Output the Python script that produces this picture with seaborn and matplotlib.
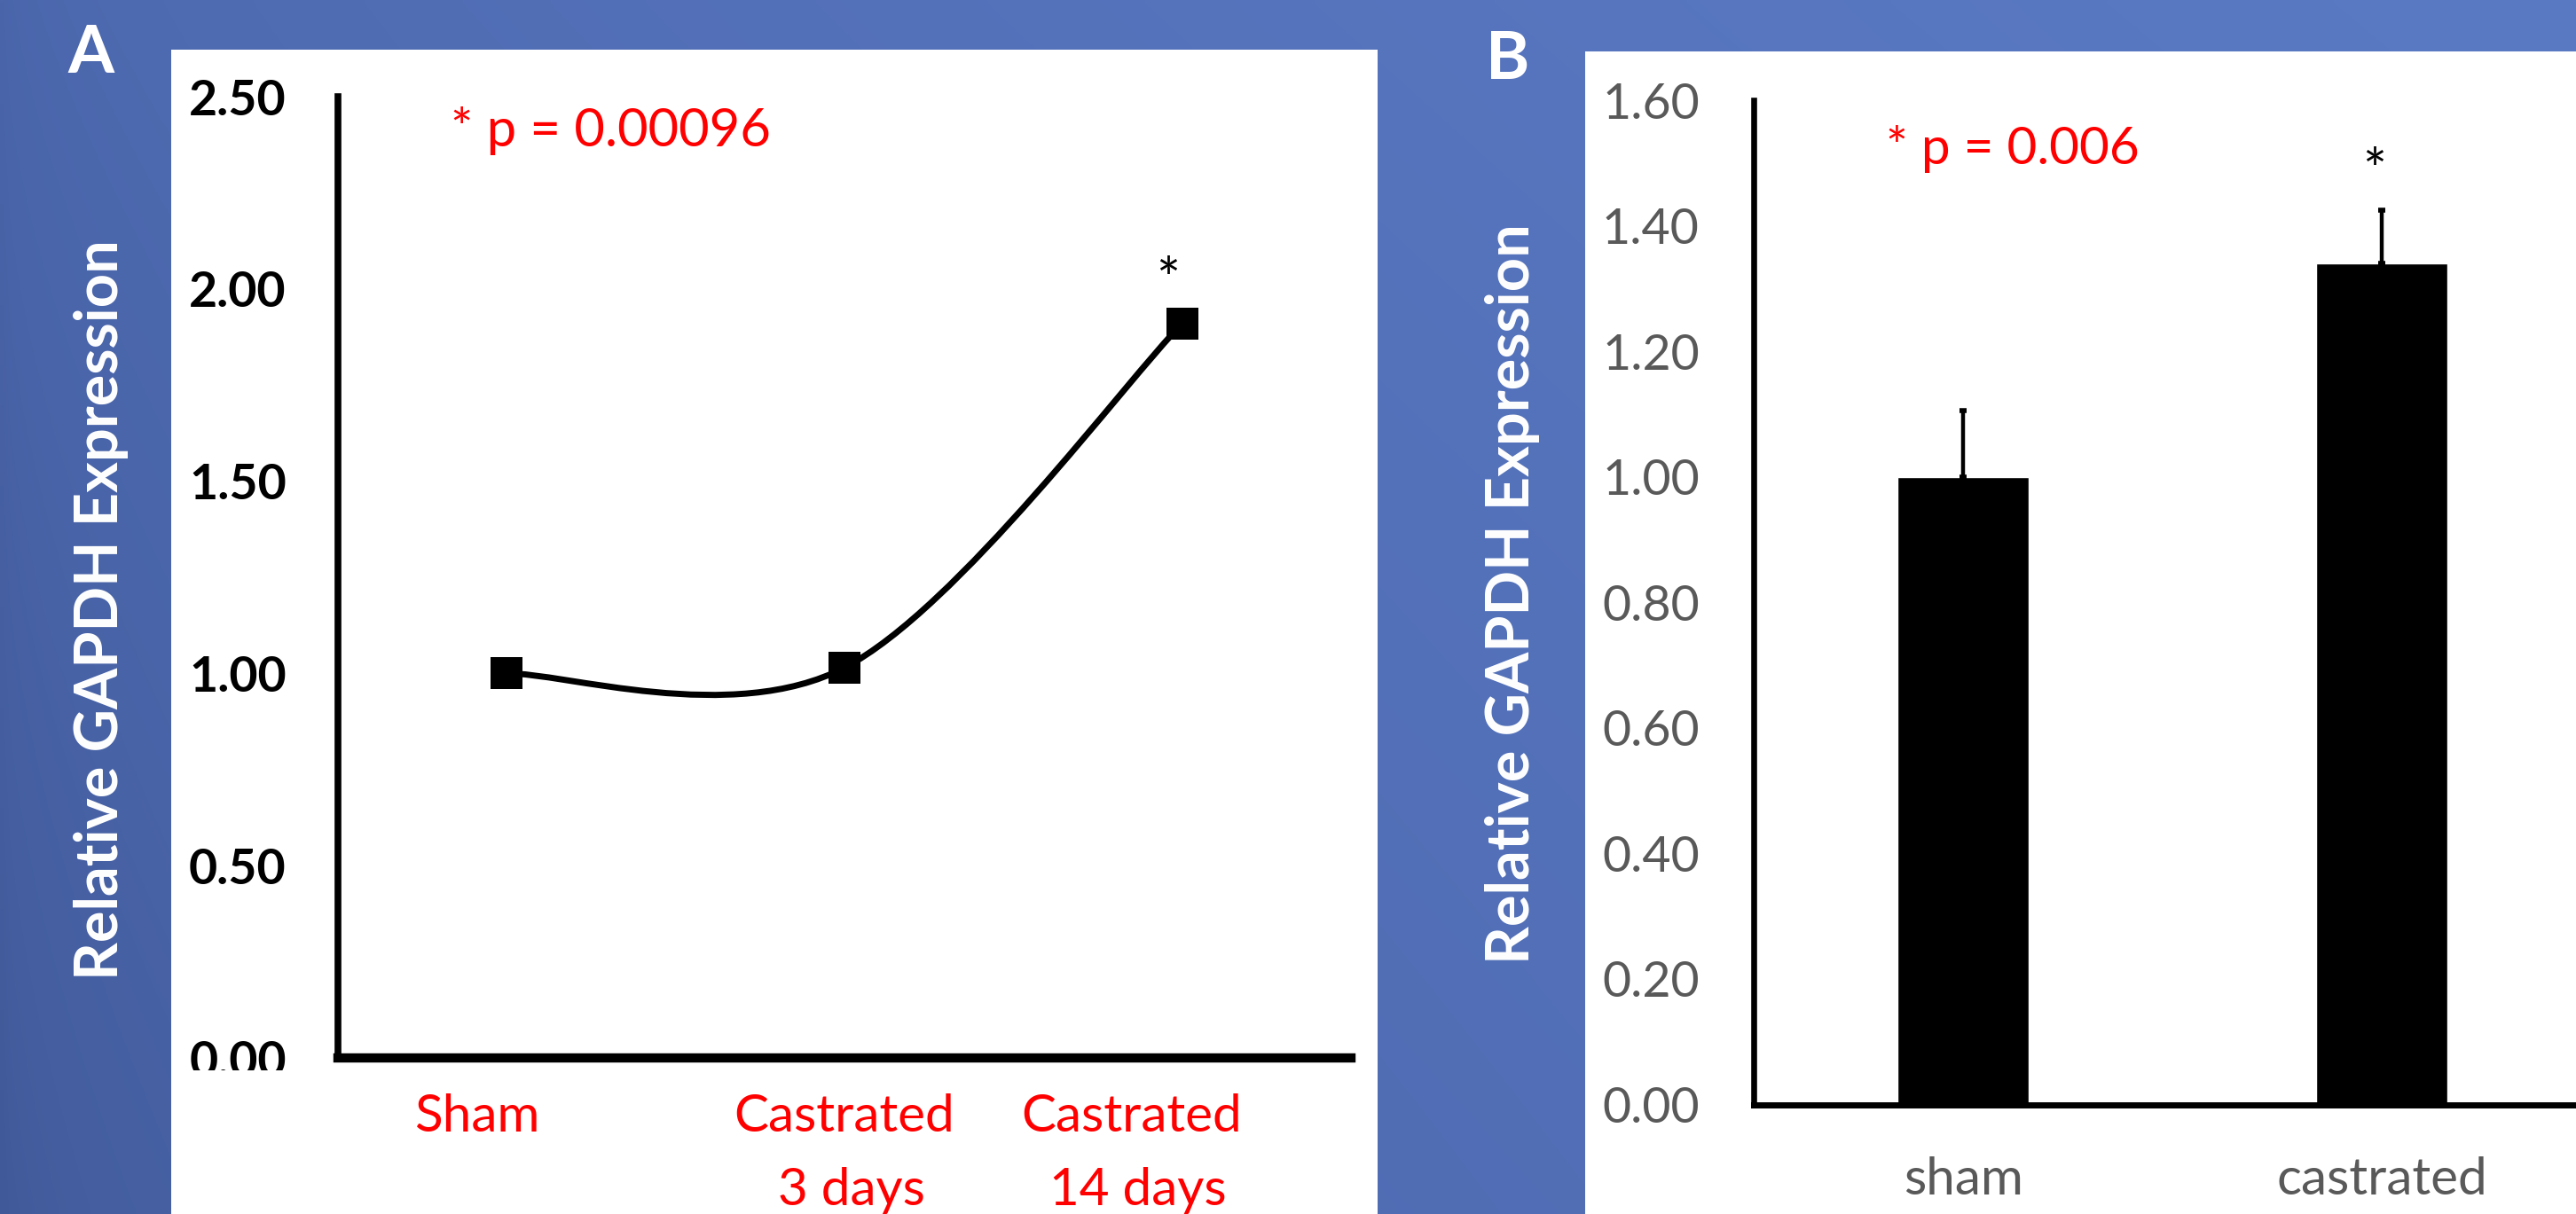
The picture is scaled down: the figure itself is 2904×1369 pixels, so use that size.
import numpy as np
import pandas as pd
import matplotlib
matplotlib.use("Agg")
import matplotlib.pyplot as plt
import matplotlib.transforms as mtransforms
from matplotlib.path import Path
from matplotlib.patches import PathPatch, Rectangle
import seaborn as sns

# ---------------- data ----------------
time_groups = ["Sham", "Castrated\n 3 days", "Castrated\n 14 days"]
time_expression = [1.00, 1.015, 1.91]
time_yticks = [0.0, 0.5, 1.0, 1.5, 2.0, 2.5]
time_pvalue = "* p = 0.00096"
time_signif = ["", "", "*"]

bar_groups = ["sham", "castrated"]
bar_expression = [1.00, 1.34]
bar_error = [0.105, 0.085]
bar_yticks = [0.0, 0.2, 0.4, 0.6, 0.8, 1.0, 1.2, 1.4, 1.6]
bar_pvalue = "* p = 0.006"
bar_signif = ["", "*"]

y_label = "Relative GAPDH Expression"
panel_letters = ["A", "B"]

# ---------------- style ----------------
sns.set_theme(style="white")
plt.rcParams["font.family"] = ["Lato", "DejaVu Sans"]

W, H, DPI = 2904, 1369, 100


def fx(px):
    return px / W


def fy(py):
    return 1 - py / H


def pt(px):
    return px * 72 / DPI


fig = plt.figure(figsize=(W / DPI, H / DPI), dpi=DPI)

# background gradient
bg = fig.add_axes([0, 0, 1, 1], zorder=-10)
yy, xx = np.mgrid[0:1:200j, 0:1:400j]
gx = np.sqrt(xx)[..., None]
TL = np.array([74, 101, 170]); TR = np.array([90, 122, 196])
BL = np.array([64, 89, 152]); BR = np.array([86, 116, 190])
top = TL + (TR - TL) * gx
bot = BL + (BR - BL) * gx
img = (top * (1 - yy[..., None]) + bot * yy[..., None]) / 255
bg.imshow(img, extent=[0, 1, 0, 1], origin="upper", aspect="auto", interpolation="bilinear")
bg.set_axis_off()

# white panels
fig.add_artist(Rectangle((fx(193), 0), fx(1553) - fx(193), fy(56), transform=fig.transFigure,
                         facecolor="white", edgecolor="none", zorder=-5))
fig.add_artist(Rectangle((fx(1787), 0), 1 - fx(1787), fy(58), transform=fig.transFigure,
                         facecolor="white", edgecolor="none", zorder=-5))

RED = "#FF0000"
GRAY = "#595959"

# ---------------- panel A ----------------
axA = fig.add_axes([fx(381), fy(1193), (1523 - 381) / W, (1193 - 109) / H])
axA.set_facecolor("none")
df_a = pd.DataFrame({"pos": np.arange(len(time_groups), dtype=float), "expr": time_expression})

# smoothed connecting line (Bezier through the data points)
pts = df_a[["pos", "expr"]].to_numpy()
verts = [pts[0]]
codes = [Path.MOVETO]
for i in range(len(pts) - 1):
    p0 = pts[i - 1] if i > 0 else pts[i]
    p1, p2 = pts[i], pts[i + 1]
    p3 = pts[i + 2] if i + 2 < len(pts) else pts[i + 1]
    verts += [p1 + (p2 - p0) / 6, p2 - (p3 - p1) / 6, p2]
    codes += [Path.CURVE4] * 3
axA.add_patch(PathPatch(Path(verts, codes), fill=False, lw=5, ec="black", zorder=3))

sns.scatterplot(data=df_a, x="pos", y="expr", marker="s", s=26 ** 2, color="black",
                linewidth=0, ax=axA, zorder=4, legend=False)

for i, sig in enumerate(time_signif):
    if sig:
        axA.annotate(sig, xy=(i, time_expression[i]), xytext=(pt(-16), pt(28)),
                     textcoords="offset points", ha="center", va="baseline",
                     fontsize=46, color="black")

axA.set_xlim(-0.5, len(time_groups) - 0.5)
axA.set_ylim(time_yticks[0], time_yticks[-1])
axA.set_yticks(time_yticks, labels=[f"{v:.2f}" for v in time_yticks])
axA.set_xticks(np.arange(len(time_groups)), labels=[""] * len(time_groups))
axA.set_xticks(np.arange(len(time_groups) + 1) - 0.5, minor=True)
axA.tick_params(axis="y", direction="out", length=12, width=5.8, color="black", pad=30,
                labelsize=40, labelcolor="black")
for lbl in axA.get_yticklabels():
    lbl.set_fontweight("bold")
axA.tick_params(axis="x", which="major", length=0)
axA.tick_params(axis="x", which="minor", direction="in", length=9, width=4.3, color="black")
for s in ["top", "right"]:
    axA.spines[s].set_visible(False)
axA.spines["left"].set_linewidth(5.5)
axA.spines["bottom"].set_linewidth(7.5)
for s in ["left", "bottom"]:
    axA.spines[s].set_color("black")
axA.set_xlabel("")
axA.set_ylabel("")

label_shift_px = [-34, 0, -57]
blendA = mtransforms.blended_transform_factory(axA.transData, fig.transFigure)
for i, (name, dx) in enumerate(zip(time_groups, label_shift_px)):
    tr = blendA + mtransforms.ScaledTranslation(dx / DPI, 0, fig.dpi_scale_trans)
    axA.text(i, fy(1233), name, transform=tr, ha="center", va="top", multialignment="center",
             fontsize=42, color=RED, linespacing=1.7, clip_on=False)

fig.text(fx(508), fy(165), time_pvalue, ha="left", va="baseline", fontsize=43, color=RED)

# ---------------- panel B ----------------
axB = fig.add_axes([fx(1977), fy(1245.5), 944 / W, (1245.5 - 113) / H])
axB.set_facecolor("none")
df_b = pd.DataFrame({"group": bar_groups, "expr": bar_expression, "err": bar_error})
sns.barplot(data=df_b, x="group", y="expr", order=bar_groups, color="black", saturation=1,
            width=0.314, errorbar=None, ax=axB, zorder=2)
axB.errorbar(np.arange(len(bar_groups)), df_b["expr"], yerr=[np.zeros(len(bar_groups)), df_b["err"]],
             fmt="none", ecolor="black", elinewidth=3.2, capsize=3, capthick=4, zorder=3)
for i, sig in enumerate(bar_signif):
    if sig:
        axB.annotate(sig, xy=(i, bar_expression[i] + bar_error[i]), xytext=(pt(-8), pt(23)),
                     textcoords="offset points", ha="center", va="baseline",
                     fontsize=46, color="black")

axB.set_xlim(-0.5, len(bar_groups) - 0.5)
axB.set_ylim(bar_yticks[0], bar_yticks[-1])
axB.set_yticks(bar_yticks, labels=[f"{v:.2f}" for v in bar_yticks])
axB.set_xticks(np.arange(len(bar_groups)), labels=bar_groups)
axB.set_xticks(np.arange(len(bar_groups) + 1) - 0.5, minor=True)
axB.tick_params(axis="y", direction="out", length=15, width=5, color="black", pad=29,
                labelsize=40, labelcolor=GRAY)
axB.tick_params(axis="x", which="major", length=0, pad=42, labelsize=42, labelcolor=GRAY)
axB.tick_params(axis="x", which="minor", direction="in", length=14, width=5.8, color="black")
for s in ["top", "right"]:
    axB.spines[s].set_visible(False)
axB.spines["left"].set_linewidth(4.75)
axB.spines["bottom"].set_linewidth(5)
for s in ["left", "bottom"]:
    axB.spines[s].set_color("black")
axB.set_xlabel("")
axB.set_ylabel("")

fig.text(fx(2126), fy(185), bar_pvalue, ha="left", va="baseline", fontsize=42, color=RED)

# ---------------- panel decorations ----------------
for letter, (cx, base) in zip(panel_letters, [(102, 82), (1700, 89)]):
    fig.text(fx(cx), fy(base), letter, ha="center", va="baseline", fontsize=54,
             fontweight="bold", color="white")
for cx, cy in [(114, 688), (1705, 670)]:
    fig.text(fx(cx), fy(cy), y_label, rotation=90, ha="center", va="center", fontsize=48,
             fontweight="bold", color="white")

# the reference crops the lower half of the "0.00" label of panel A
fig.canvas.draw()
clip = mtransforms.TransformedBbox(mtransforms.Bbox([[0, fy(1207)], [1, 1]]), fig.transFigure)
for lbl in axA.get_yticklabels():
    lbl.set_clip_on(True)
    lbl.set_clip_box(clip)

fig.savefig("out.png", dpi=DPI)
